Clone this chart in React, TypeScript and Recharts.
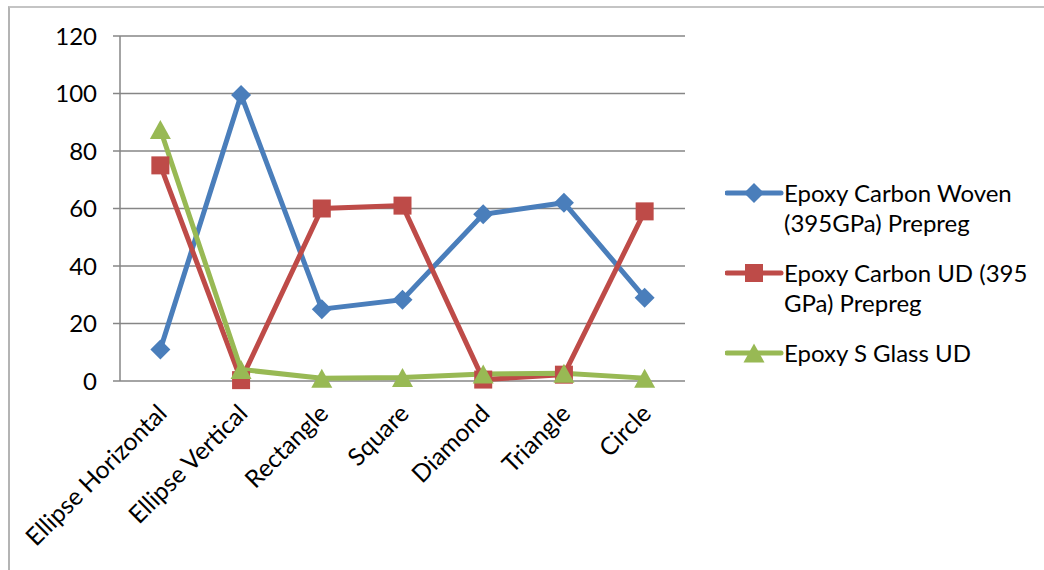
import React from 'react';
import { LineChart, Line, XAxis, YAxis, CartesianGrid, Legend } from 'recharts';

const categories = ['Ellipse Horizontal', 'Ellipse Vertical', 'Rectangle', 'Square', 'Diamond', 'Triangle', 'Circle'];
const carbonWoven = [11, 99.5, 25, 28.3, 58, 62, 29];
const carbonUD = [75, 0.3, 60, 61, 0.5, 2.2, 59];
const sGlass = [87.5, 4, 1, 1.2, 2.4, 2.7, 1];
const yTicks = [0, 20, 40, 60, 80, 100, 120];
const seriesNames = ['Epoxy Carbon Woven (395GPa) Prepreg', 'Epoxy Carbon UD (395 GPa) Prepreg', 'Epoxy S Glass UD'];
const legendLines = [
  ['Epoxy Carbon Woven', '(395GPa) Prepreg'],
  ['Epoxy Carbon UD (395', 'GPa) Prepreg'],
  ['Epoxy S Glass UD'],
];

const BLUE = '#4a7ebb';
const RED = '#be4b48';
const GREEN = '#98b954';
const GRID = '#868686';
const FONT = 'Lato, "Open Sans", sans-serif';

const data = categories.map((name, i) => ({
  idx: i,
  name,
  woven: carbonWoven[i],
  ud: carbonUD[i],
  glass: sGlass[i],
}));

const labelTicks = categories.map((_, i) => i);
const boundaryTicks = [...categories.map((_, i) => i - 0.5), categories.length - 0.5];

const DiamondDot = (props: any) => {
  const { cx, cy } = props;
  if (cx == null || cy == null) return null;
  const r = 10;
  return <path d={`M${cx},${cy - r}L${cx + r},${cy}L${cx},${cy + r}L${cx - r},${cy}Z`} fill={BLUE} />;
};
const SquareDot = (props: any) => {
  const { cx, cy } = props;
  if (cx == null || cy == null) return null;
  const h = 9;
  return <rect x={cx - h} y={cy - h} width={2 * h} height={2 * h} fill={RED} />;
};
const TriangleDot = (props: any) => {
  const { cx, cy } = props;
  if (cx == null || cy == null) return null;
  const w = 10.5, h = 9.5;
  return <path d={`M${cx},${cy - h}L${cx + w},${cy + h}L${cx - w},${cy + h}Z`} fill={GREEN} />;
};

const XLabel = (props: any) => {
  const { x, y, payload } = props;
  const ax = x + 8;
  const ay = y + 26;
  return (
    <text x={ax} y={ay} transform={`rotate(-45, ${ax}, ${ay})`} textAnchor="end" fontSize={24.5} fontFamily={FONT} fill="#000">
      {categories[payload.value]}
    </text>
  );
};

const legendMarkers = [
  (cx: number, cy: number) => <DiamondDot cx={cx} cy={cy} />,
  (cx: number, cy: number) => <SquareDot cx={cx} cy={cy} />,
  (cx: number, cy: number) => <TriangleDot cx={cx} cy={cy} />,
];
const legendColors = [BLUE, RED, GREEN];

const renderLegend = () => (
  <div style={{ position: 'relative', width: 320, height: 200, fontFamily: FONT, fontSize: 24, color: '#000' }}>
    {legendLines.map((lines, i) => {
      const top = [0, 80, 160][i];
      return (
        <div key={seriesNames[i]} style={{ position: 'absolute', left: 0, top }}>
          <svg width={60} height={30} style={{ position: 'absolute', left: 0, top: 0 }}>
            <line x1={2} y1={15} x2={56} y2={15} stroke={legendColors[i]} strokeWidth={5} strokeLinecap="round" />
            {legendMarkers[i](29, 15)}
          </svg>
          <div style={{ position: 'absolute', left: 59, top: 0, lineHeight: '30px', whiteSpace: 'nowrap' }}>
            {lines.map((l) => (
              <div key={l}>{l}</div>
            ))}
          </div>
        </div>
      );
    })}
  </div>
);

export default function App() {
  return (
    <div style={{ position: 'absolute', left: 0, top: 0, width: 1044, height: 570, background: '#fff', overflow: 'hidden' }}>
      <div style={{ position: 'absolute', left: 8, top: 6, width: 1100, height: 600, borderLeft: '2px solid #b4b4b4', borderTop: '2px solid #c4c4c4' }} />
      <div style={{ position: 'absolute', left: 0, top: 0 }}>
        <LineChart width={1044} height={570} data={data} margin={{ top: 36, right: 359, left: 20, bottom: 39 }}>
          <CartesianGrid vertical={false} stroke={GRID} strokeWidth={1.5} />
          <XAxis
            xAxisId="bounds"
            dataKey="idx"
            type="number"
            domain={[-0.5, categories.length - 0.5]}
            ticks={boundaryTicks}
            tickFormatter={() => ''}
            height={0}
            tickSize={6}
            stroke={GRID}
            strokeWidth={1.5}
            axisLine={{ stroke: GRID, strokeWidth: 1.5 }}
            tickLine={{ stroke: GRID, strokeWidth: 1.5 }}
            interval={0}
          />
          <XAxis
            dataKey="idx"
            type="number"
            domain={[-0.5, categories.length - 0.5]}
            ticks={labelTicks}
            interval={0}
            height={150}
            axisLine={false}
            tickLine={false}
            tick={<XLabel />}
          />
          <YAxis
            domain={[0, 120]}
            ticks={yTicks}
            width={100}
            tickSize={7}
            tickMargin={16}
            interval={0}
            axisLine={{ stroke: GRID, strokeWidth: 1.5 }}
            tickLine={{ stroke: GRID, strokeWidth: 1.5 }}
            tick={{ fontSize: 24, fontFamily: FONT, fill: '#000' }}
          />
          <Legend
            layout="horizontal"
            align="center"
            verticalAlign="middle"
            content={renderLegend}
            wrapperStyle={{ position: 'absolute', left: 725, top: 178, width: 320, height: 200 }}
          />
          <Line dataKey="woven" name={seriesNames[0]} stroke={BLUE} strokeWidth={5} dot={<DiamondDot />} activeDot={false} isAnimationActive={false} />
          <Line dataKey="ud" name={seriesNames[1]} stroke={RED} strokeWidth={5} dot={<SquareDot />} activeDot={false} isAnimationActive={false} />
          <Line dataKey="glass" name={seriesNames[2]} stroke={GREEN} strokeWidth={5} dot={<TriangleDot />} activeDot={false} isAnimationActive={false} />
        </LineChart>
      </div>
    </div>
  );
}
